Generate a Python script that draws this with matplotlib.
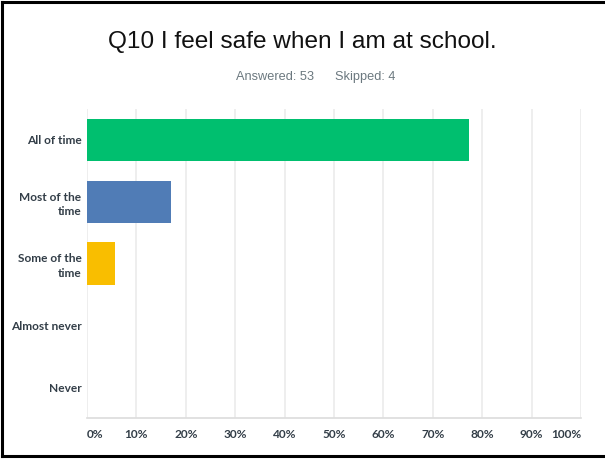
import matplotlib
matplotlib.use("Agg")

import matplotlib.pyplot as plt
from matplotlib.lines import Line2D

# Survey results, Q10 (53 answered, 4 skipped)
categories = ["All of time", "Most of the\ntime", "Some of the\ntime", "Almost never", "Never"]
responses = [41, 9, 3, 0, 0]
answered = 53
skipped = 4
bar_colors = ["#00bf6f", "#507cb6", "#f9be00", "#6bc8cd", "#a05fb4"]
tick_values = [0, 10, 20, 30, 40, 50, 60, 70, 80, 90, 100]

percents = [100 * r / answered for r in responses]

W, H = 605, 461
fig = plt.figure(figsize=(W / 100, H / 100), dpi=100)
fig.patch.set_facecolor("white")

ax = fig.add_axes([87 / W, (H - 418) / H, (581 - 87) / W, (418 - 109) / H])
ypos = list(range(len(categories)))
ax.barh(ypos, percents, height=0.68, color=bar_colors, zorder=3)
ax.set_ylim(len(categories) - 0.5, -0.5)
ax.set_xlim(0, 100)

# light vertical gridlines, no frame except the baseline
ax.set_xticks(tick_values)
ax.xaxis.grid(True, color="#ebebeb", linewidth=1.2, zorder=0)
for side in ("top", "right", "left"):
    ax.spines[side].set_visible(False)
ax.spines["bottom"].set_color("#dcdcdc")
ax.spines["bottom"].set_linewidth(1.2)
ax.tick_params(axis="both", length=0)
ax.set_xticklabels([])
ax.set_yticks(ypos)
ax.set_yticklabels(categories, fontfamily="Lato", fontweight="bold",
                   fontsize=8.6, color="#333e48", linespacing=1.35)
ax.tick_params(axis="y", pad=4)

# percent labels: first left-aligned, last right-aligned, rest centred
for i, v in enumerate(tick_values):
    ha = "left" if i == 0 else ("right" if i == len(tick_values) - 1 else "center")
    ax.text(v, -0.055, f"{v}%", transform=ax.get_xaxis_transform(),
            ha=ha, va="center", fontfamily="Lato", fontweight="bold",
            fontsize=8.6, color="#333e48")

fig.text(302 / W, 1 - 42 / H, "Q10 I feel safe when I am at school.",
         ha="center", va="center", fontfamily="Liberation Sans",
         fontsize=17.6, color="#111111")
fig.text(316 / W, 1 - 77 / H, f"Answered: {answered}      Skipped: {skipped}",
         ha="center", va="center", fontfamily="Liberation Sans",
         fontsize=9.2, color="#6b787f")

# black frame on left, top and bottom
frame = dict(color="black", linewidth=2.2, transform=fig.transFigure)
fig.add_artist(Line2D([2 / W, 2 / W], [1 - 2.5 / H, 1 - 455.5 / H], **frame))
fig.add_artist(Line2D([2 / W, 1], [1 - 2.5 / H, 1 - 2.5 / H], **frame))
fig.add_artist(Line2D([2 / W, 1], [1 - 455.5 / H, 1 - 455.5 / H], **frame))

fig.savefig("out.png", dpi=100)
